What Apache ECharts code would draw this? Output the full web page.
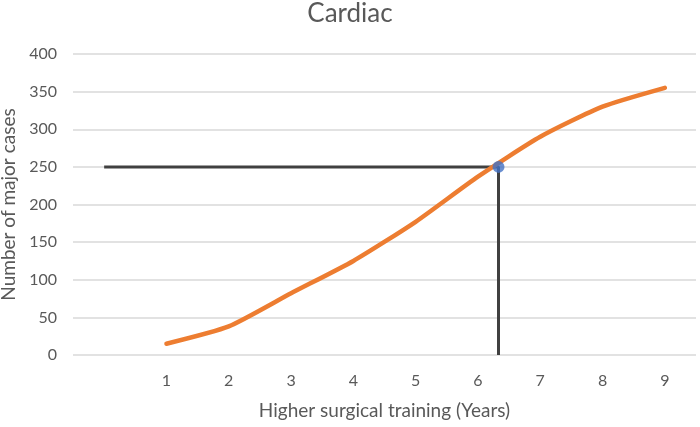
<!DOCTYPE html>
<html>
<head>
<meta charset="utf-8">
<script src="https://cdn.jsdelivr.net/npm/echarts@6/dist/echarts.min.js"></script>
<style>
  html, body { margin: 0; padding: 0; background: #fff; }
  #chart { width: 700px; height: 427px; }
</style>
</head>
<body>
<div id="chart"></div>
<script>
// data
const years = [1, 2, 3, 4, 5, 6, 7, 8, 9]
const cases = [15, 38, 82, 125, 177, 237, 290, 330, 355]
const yTicks = [0, 50, 100, 150, 200, 250, 300, 350, 400]
const targetCases = 250
const targetYear = 6.33
const guideStartYear = 0

const chart = echarts.init(document.getElementById('chart'))
const textColor = '#595959'
const font = 'Lato, "Open Sans", sans-serif'

chart.setOption({
  backgroundColor: '#ffffff',
  animation: false,
  title: {
    text: 'Cardiac',
    left: 'center',
    top: -4,
    textStyle: { fontFamily: font, fontWeight: 'normal', fontSize: 26, color: textColor }
  },
  grid: { left: 73, right: 4, top: 54, bottom: 72, outerBoundsMode: 'none', containLabel: false },
  xAxis: {
    type: 'value',
    min: -0.5,
    max: 9.5,
    name: 'Higher surgical training (Years)',
    nameLocation: 'middle',
    nameGap: 46,
    nameTextStyle: { fontFamily: font, fontSize: 19, color: textColor },
    axisLine: { show: false },
    axisTick: { show: false },
    splitLine: { show: false },
    axisLabel: {
      customValues: years,
      margin: 18,
      fontFamily: font,
      fontSize: 16,
      color: textColor
    }
  },
  yAxis: {
    type: 'value',
    min: yTicks[0],
    max: yTicks[yTicks.length - 1],
    interval: 50,
    name: 'Number of major cases',
    nameLocation: 'middle',
    nameGap: 53,
    nameTextStyle: { fontFamily: font, fontSize: 19, color: textColor },
    axisLine: { show: false },
    axisTick: { show: false },
    axisLabel: { margin: 16, fontFamily: font, fontSize: 16, color: textColor },
    splitLine: { lineStyle: { color: '#d9d9d9', width: 1.5 } }
  },
  series: [
    {
      name: 'guide',
      type: 'line',
      data: [
        [guideStartYear, targetCases],
        [targetYear, targetCases],
        [targetYear, 0]
      ],
      symbol: 'none',
      lineStyle: { color: '#404040', width: 3 },
      z: 2
    },
    {
      name: 'Cardiac',
      type: 'line',
      data: years.map((y, i) => [y, cases[i]]),
      smooth: 0.2,
      symbol: 'none',
      lineStyle: { color: '#ED7D31', width: 4.5, cap: 'round' },
      z: 3
    },
    {
      name: 'target',
      type: 'scatter',
      data: [[targetYear, targetCases]],
      symbolSize: 12,
      itemStyle: { color: '#4472C4' },
      z: 4
    }
  ]
})
</script>
</body>
</html>
